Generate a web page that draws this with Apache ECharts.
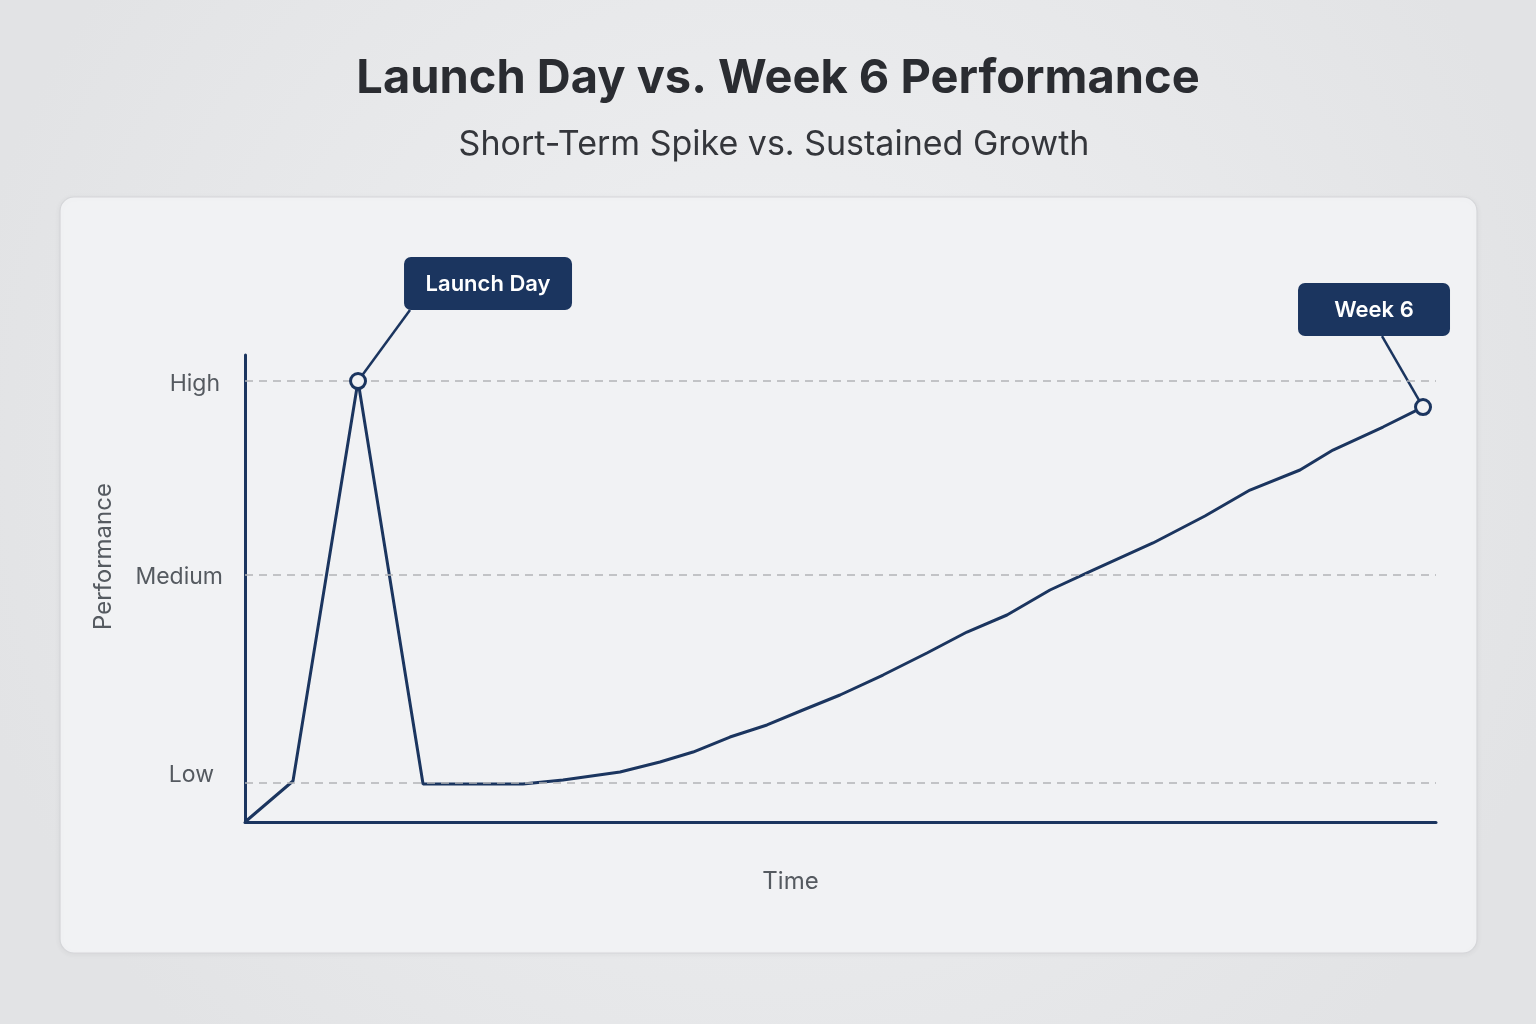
<!DOCTYPE html>
<html>
<head>
<meta charset="utf-8">
<script src="https://cdn.jsdelivr.net/npm/echarts@6/dist/echarts.min.js"></script>
<style>
  html, body { margin: 0; padding: 0; width: 1536px; height: 1024px; overflow: hidden; }
  #chart { width: 1536px; height: 1024px; }
</style>
</head>
<body>
<div id="chart"></div>
<script>
// ---- Data ----
const timeValues = [0, 4.03, 9.49, 14.95, 23.34, 26.70, 31.49, 34.84, 37.62, 40.72, 43.83, 46.85, 49.96, 53.57, 57.26, 60.62, 63.98, 67.59, 71.20, 76.24, 80.60, 84.38, 88.58, 91.35, 95.55, 98.91];
const perfValues = [0, 9.30, 100, 8.62, 8.62, 9.52, 11.34, 13.61, 15.87, 19.27, 22.0, 25.40, 28.80, 33.33, 38.32, 43.08, 46.94, 52.61, 57.14, 63.27, 69.39, 75.28, 79.82, 84.35, 89.57, 94.10];
const levelNames = ['Low', 'Medium', 'High'];
const levelValues = [8.84, 56, 100];
const annotationIndex = [2, 25];
const annotationLabels = ['Launch Day', 'Week 6'];

const NAVY = '#1b355f';
const FONT = 'Inter, "Noto Sans", sans-serif';

// callout styling (pixel offsets from the annotated point)
const calloutBox = [
  { x0: 46, x1: 214, y0: -124, y1: -71, ax: 52, ay: -71 },
  { x0: -125, x1: 27, y0: -124, y1: -71, ax: -41, ay: -71 }
];

const chart = echarts.init(document.getElementById('chart'));

const lineData = timeValues.map((t, i) => [t, perfValues[i]]);
const annotationData = annotationIndex.map(idx => [timeValues[idx], perfValues[idx]]);

const levelRich = {
  Low: { padding: [0, 9, 16, 0] },
  Medium: { padding: [4, 0, 0, 0] },
  High: { padding: [6, 3, 0, 0] }
};

const option = {
  backgroundColor: {
    type: 'radial', x: 0.5, y: 0.45, r: 0.8,
    colorStops: [{ offset: 0, color: '#f0f1f3' }, { offset: 1, color: '#e2e3e5' }]
  },
  textStyle: { fontFamily: FONT },
  title: [
    {
      text: 'Launch Day vs. Week 6 Performance',
      left: 773, top: 50, textAlign: 'center',
      textStyle: { fontFamily: FONT, fontSize: 47, fontWeight: 700, color: '#2a2c31' }
    },
    {
      text: 'Short-Term Spike vs. Sustained Growth',
      left: 769, top: 123, textAlign: 'center',
      textStyle: { fontFamily: FONT, fontSize: 34, fontWeight: 400, color: '#34363b' }
    }
  ],
  graphic: [
    {
      type: 'rect', z: -10,
      shape: { x: 60, y: 197, width: 1417, height: 756, r: 14 },
      style: {
        fill: '#f1f2f4', stroke: '#d5d6d9', lineWidth: 1.2,
        shadowBlur: 6, shadowColor: 'rgba(0,0,0,0.05)', shadowOffsetY: 1
      }
    }
  ],
  grid: { left: 245, right: 100, top: 355, bottom: 202, containLabel: false },
  xAxis: {
    type: 'value', min: 0, max: 100,
    axisLine: { show: true, lineStyle: { color: NAVY, width: 3 } },
    axisTick: { show: false },
    axisLabel: { show: false },
    splitLine: { show: false },
    name: 'Time', nameLocation: 'middle', nameGap: 48,
    nameTextStyle: { fontFamily: FONT, fontSize: 24, color: '#555a60', padding: [0, 100, 0, 0] }
  },
  yAxis: {
    type: 'value', min: 0, max: 105.9,
    axisLine: { show: true, lineStyle: { color: NAVY, width: 3 } },
    axisTick: { show: false },
    splitLine: { show: false },
    axisLabel: {
      customValues: levelValues,
      margin: 22,
      fontFamily: FONT, fontSize: 23, color: '#555a60',
      rich: levelRich,
      formatter: function (v) {
        let best = 0, d = Infinity;
        levelValues.forEach((lv, i) => { if (Math.abs(lv - v) < d) { d = Math.abs(lv - v); best = i; } });
        const n = levelNames[best];
        return '{' + n + '|' + n + '}';
      }
    },
    name: 'Performance', nameLocation: 'middle', nameGap: 129,
    nameTextStyle: { fontFamily: FONT, fontSize: 24, color: '#555a60', padding: [0, 0, 0, 64] }
  },
  series: [
    {
      type: 'line',
      data: lineData,
      symbol: 'none',
      smooth: false,
      lineStyle: { color: NAVY, width: 3 },
      z: 3,
      markLine: {
        silent: true,
        symbol: ['none', 'none'],
        label: { show: false },
        lineStyle: { color: '#b3b4b7', width: 1.5, type: [8, 6] },
        data: levelValues.map(v => ({ yAxis: v }))
      }
    },
    {
      type: 'custom',
      data: annotationData,
      clip: false,
      z: 4,
      renderItem: function (params, api) {
        const p = api.coord([api.value(0), api.value(1)]);
        const b = calloutBox[params.dataIndex];
        const label = annotationLabels[params.dataIndex];
        return {
          type: 'group',
          children: [
            {
              type: 'line',
              shape: { x1: p[0], y1: p[1], x2: p[0] + b.ax, y2: p[1] + b.ay },
              style: { stroke: NAVY, lineWidth: 2.5 }
            },
            {
              type: 'rect',
              shape: { x: p[0] + b.x0, y: p[1] + b.y0, width: b.x1 - b.x0, height: b.y1 - b.y0, r: 7 },
              style: { fill: NAVY }
            },
            {
              type: 'text',
              style: {
                text: label,
                x: p[0] + (b.x0 + b.x1) / 2,
                y: p[1] + (b.y0 + b.y1) / 2 + 1,
                align: 'center', verticalAlign: 'middle',
                fill: '#ffffff',
                font: '600 22px ' + FONT
              }
            }
          ]
        };
      }
    },
    {
      type: 'scatter',
      data: annotationData,
      symbol: 'circle',
      symbolSize: 15,
      z: 5,
      itemStyle: { color: '#f1f2f4', borderColor: NAVY, borderWidth: 3, opacity: 1 }
    }
  ]
};

chart.setOption(option);
</script>
</body>
</html>
